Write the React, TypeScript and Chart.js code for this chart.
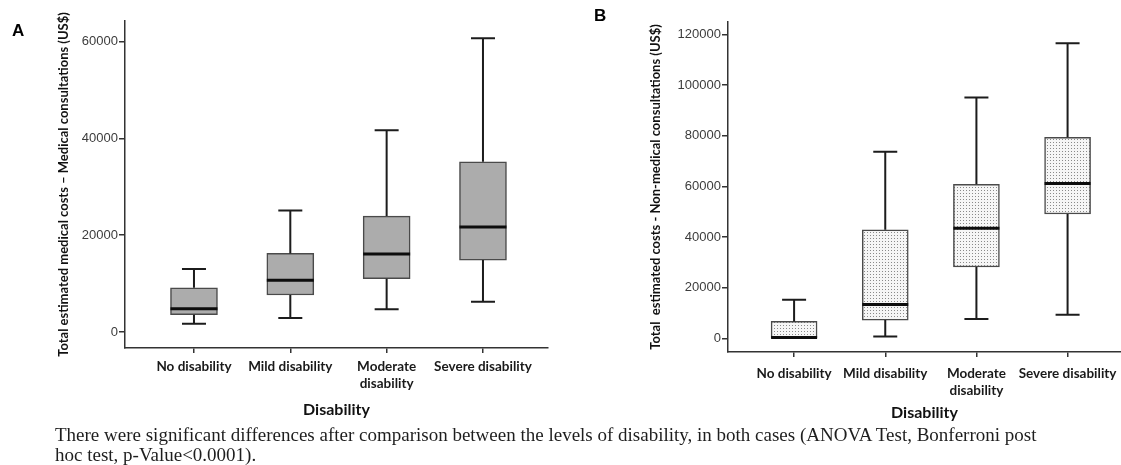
import React, { useEffect, useRef } from "react";
import { Chart, registerables } from "chart.js";

Chart.register(...registerables);

// ---------- data ----------
const categoryLabels: string[][] = [
  ["No disability"],
  ["Mild disability"],
  ["Moderate", "disability"],
  ["Severe disability"],
];

// Panel A – medical consultations (US$)
const lowA = [1720, 2890, 4680, 6260];
const q1A = [3580, 7640, 11010, 14870];
const medA = [4800, 10670, 16100, 21680];
const q3A = [9150, 16240, 23950, 35170];
const highA = [13000, 25100, 41700, 60700];
const yTicksA = [0, 20000, 40000, 60000];

// Panel B – non-medical consultations (US$)
const lowB = [0, 670, 7600, 9330];
const q1B = [0, 7200, 28130, 49070];
const medB = [300, 13330, 43470, 61070];
const q3B = [6670, 42800, 60800, 79330];
const highB = [15200, 73600, 95070, 116500];
const yTicksB = [0, 20000, 40000, 60000, 80000, 100000, 120000];

const yTitleA = "Total estimated medical costs \u2013 Medical consultations (US$)";
const yTitleB = "Total  estimated costs - Non-medical consultations (US$)";
const xTitle = "Disability";

type PanelSpec = {
  width: number;
  height: number;
  low: number[];
  q1: number[];
  med: number[];
  q3: number[];
  high: number[];
  yTicks: number[];
  yMin: number;
  yMax: number;
  xMin: number;
  xMax: number;
  yTitle: string;
  yAxisWidth: number;
  yTitlePad: number;
  xAxisHeight: number;
  xTickPad: number;
  xTitlePad: number;
  padTop: number;
  padRight: number;
  dotted: boolean;
  boxWidth: number;
};

function makeWhiskerPlugin(spec: PanelSpec) {
  return {
    id: "whiskers",
    afterDatasetsDraw(chart: any) {
      const { ctx, scales } = chart;
      const xs = scales.x;
      const ys = scales.y;
      const cap = 24;
      ctx.save();
      ctx.lineCap = "butt";
      for (let i = 0; i < spec.q1.length; i++) {
        const px = xs.getPixelForValue(i);
        const yHigh = ys.getPixelForValue(spec.high[i]);
        const yQ3 = ys.getPixelForValue(spec.q3[i]);
        const yQ1 = ys.getPixelForValue(spec.q1[i]);
        const yLow = ys.getPixelForValue(spec.low[i]);
        const yMed = ys.getPixelForValue(spec.med[i]);
        ctx.strokeStyle = "#1c1c1c";
        ctx.lineWidth = 2;
        ctx.beginPath();
        ctx.moveTo(px, yQ3);
        ctx.lineTo(px, yHigh);
        ctx.moveTo(px - cap / 2, yHigh);
        ctx.lineTo(px + cap / 2, yHigh);
        if (spec.low[i] < spec.q1[i]) {
          ctx.moveTo(px, yQ1);
          ctx.lineTo(px, yLow);
          ctx.moveTo(px - cap / 2, yLow);
          ctx.lineTo(px + cap / 2, yLow);
        }
        ctx.stroke();
        ctx.lineWidth = 3;
        ctx.strokeStyle = "#0d0d0d";
        ctx.beginPath();
        ctx.moveTo(px - spec.boxWidth / 2, yMed);
        ctx.lineTo(px + spec.boxWidth / 2, yMed);
        ctx.stroke();
      }
      ctx.restore();
    },
  };
}

function makeDotPattern(): CanvasPattern | string {
  const c = document.createElement("canvas");
  c.width = 3;
  c.height = 3;
  const g = c.getContext("2d");
  if (!g) return "#ececec";
  g.fillStyle = "#f6f6f6";
  g.fillRect(0, 0, 3, 3);
  g.fillStyle = "#8a8a8a";
  g.fillRect(1, 1, 1, 1);
  const p = g.createPattern(c, "repeat");
  return p || "#ececec";
}

function Panel({ spec }: { spec: PanelSpec }) {
  const ref = useRef<HTMLCanvasElement | null>(null);
  useEffect(() => {
    if (!ref.current) return;
    const fill = spec.dotted ? makeDotPattern() : "#acacac";
    const chart = new Chart(ref.current, {
      type: "bar",
      data: {
        datasets: [
          {
            data: spec.q1.map((v, i) => ({ x: i, y: [v, spec.q3[i]] })) as any,
            backgroundColor: fill as any,
            borderColor: "#4a4a4a",
            borderWidth: 1.5,
            borderSkipped: false,
            barThickness: spec.boxWidth,
          },
        ],
      },
      options: {
        animation: false,
        responsive: false,
        events: [],
        layout: { padding: { top: spec.padTop, right: spec.padRight, left: 0, bottom: 0 } },
        plugins: { legend: { display: false }, tooltip: { enabled: false } },
        scales: {
          x: {
            type: "linear",
            offset: false,
            min: spec.xMin,
            max: spec.xMax,
            afterBuildTicks: (scale: any) => {
              scale.ticks = categoryLabels.map((_, i) => ({ value: i }));
            },
            afterFit: (scale: any) => {
              scale.height = spec.xAxisHeight;
              scale.paddingLeft = 0;
              scale.paddingRight = 0;
            },
            grid: {
              display: true,
              offset: false,
              drawOnChartArea: false,
              drawTicks: true,
              tickLength: 5,
              color: "#333",
              lineWidth: 1.5,
            },
            border: { display: true, color: "#333", width: 1.5 },
            ticks: {
              autoSkip: false,
              maxRotation: 0,
              minRotation: 0,
              padding: spec.xTickPad,
              color: "#1a1a1a",
              font: { family: "Lato", weight: "bold", size: 13.5, lineHeight: 1.25 },
              callback: (v: any) => categoryLabels[Math.round(Number(v))] || "",
            },
            title: {
              display: true,
              text: xTitle,
              color: "#111",
              font: { family: "Lato", weight: "bold", size: 16 },
              padding: { top: 0, bottom: spec.xTitlePad },
            },
          },
          y: {
            type: "linear",
            min: spec.yMin,
            max: spec.yMax,
            afterBuildTicks: (scale: any) => {
              scale.ticks = spec.yTicks.map((v) => ({ value: v }));
            },
            afterFit: (scale: any) => {
              scale.width = spec.yAxisWidth;
              scale.paddingTop = 0;
              scale.paddingBottom = 0;
            },
            grid: {
              display: true,
              drawOnChartArea: false,
              drawTicks: true,
              tickLength: 6,
              color: "#333",
              lineWidth: 1.5,
            },
            border: { display: true, color: "#333", width: 1.5 },
            ticks: {
              autoSkip: false,
              padding: 1,
              color: "#3c3c3c",
              font: { family: "Liberation Sans", size: 13 },
              callback: (v: any) => String(v),
            },
            title: {
              display: true,
              text: spec.yTitle,
              color: "#111",
              font: { family: "Lato", weight: "bold", size: 13 },
              padding: { top: spec.yTitlePad, bottom: 0 },
            },
          },
        },
      } as any,
      plugins: [makeWhiskerPlugin(spec)],
    });
    return () => chart.destroy();
  }, [spec]);
  return (
    <canvas
      ref={ref}
      width={spec.width}
      height={spec.height}
      style={{ display: "block", width: spec.width, height: spec.height }}
    />
  );
}

const specA: PanelSpec = {
  width: 560,
  height: 430,
  low: lowA,
  q1: q1A,
  med: medA,
  q3: q3A,
  high: highA,
  yTicks: yTicksA,
  yMin: -3307,
  yMax: 64278,
  xMin: -0.716,
  xMax: 3.675,
  yTitle: yTitleA,
  yAxisWidth: 125,
  yTitlePad: 56,
  xAxisHeight: 82,
  xTickPad: 5.5,
  xTitlePad: 10.4,
  padTop: 21,
  padRight: 12,
  dotted: false,
  boxWidth: 47,
};

const specB: PanelSpec = {
  width: 561,
  height: 430,
  low: lowB,
  q1: q1B,
  med: medB,
  q3: q3B,
  high: highB,
  yTicks: yTicksB,
  yMin: -5408,
  yMax: 124855,
  xMin: -0.725,
  xMax: 3.586,
  yTitle: yTitleB,
  yAxisWidth: 168,
  yTitlePad: 88,
  xAxisHeight: 78,
  xTickPad: 8.5,
  xTitlePad: 7.4,
  padTop: 22,
  padRight: 0,
  dotted: true,
  boxWidth: 46,
};

export default function App() {
  return (
    <div
      style={{
        position: "fixed",
        left: 0,
        top: 0,
        width: 1121,
        height: 465,
        background: "#fff",
        overflow: "hidden",
      }}
    >
      <div style={{ position: "absolute", left: 0, top: 0 }}>
        <Panel spec={specA} />
      </div>
      <div style={{ position: "absolute", left: 560, top: 0 }}>
        <Panel spec={specB} />
      </div>
      <div
        style={{
          position: "absolute",
          left: 12,
          top: 22,
          font: "bold 17px 'Liberation Sans', Arial, sans-serif",
          lineHeight: "17px",
          color: "#000",
        }}
      >
        A
      </div>
      <div
        style={{
          position: "absolute",
          left: 594,
          top: 7,
          font: "bold 17px 'Liberation Sans', Arial, sans-serif",
          lineHeight: "17px",
          color: "#000",
        }}
      >
        B
      </div>
      <div
        style={{
          position: "absolute",
          left: 55,
          top: 425,
          font: "19px 'Liberation Serif', serif",
          lineHeight: "20px",
          color: "#1e1e1e",
          whiteSpace: "nowrap",
        }}
      >
        There were significant differences after comparison between the levels of disability, in both cases (ANOVA Test, Bonferroni post
        <br />
        hoc test, p-Value&lt;0.0001).
      </div>
    </div>
  );
}
